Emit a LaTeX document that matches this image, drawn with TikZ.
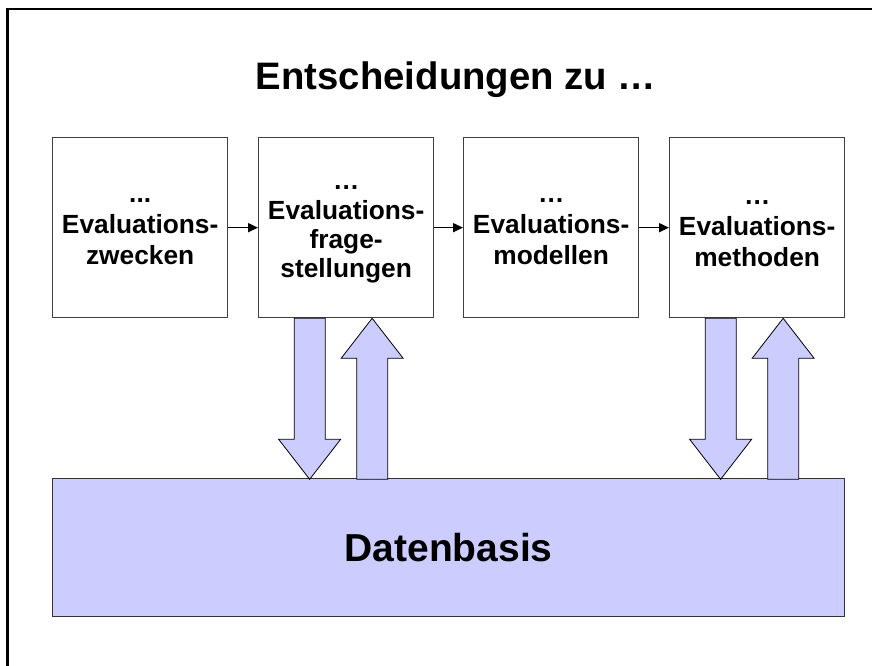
\documentclass[tikz,border=0pt]{standalone}
\usepackage{fontspec}
\setmainfont{Liberation Sans}
\usetikzlibrary{arrows.meta,calc}
\definecolor{dbblue}{HTML}{CCCCFF}
\begin{document}
\begin{tikzpicture}[x=1pt,y=-1pt,
  stagebox/.style={draw=black!75, line width=1.3pt, fill=white, minimum width=175pt, minimum height=180pt, inner sep=0pt, anchor=north west},
  stagetext/.style={align=center, inner sep=0pt, font=\fontsize{26.3}{31}\selectfont\bfseries},
  flow/.style={-{Triangle[length=10pt,width=9pt]}, line width=1.6pt},
  blockarrow/.style={fill=dbblue, draw=black, line width=0.8pt, line join=miter}]
\useasboundingbox (0,0) rectangle (872,666);
\fill[white] (0,0) rectangle (872,666);
\draw[line width=2.5pt] (7.5,666) -- (7.5,9) -- (872,9);

\node[font=\fontsize{38.3}{45}\selectfont\bfseries, anchor=base] (title) at (456,90) {Entscheidungen zu …};

\node[stagebox] (b1) at (52,137) {};
\node[stagebox] (b2) at (258,137) {};
\node[stagebox] (b3) at (463,137) {};
\node[stagebox] (b4) at (669,137) {};

\node[stagetext] (t1) at ($(b1.center)+(0,4.5)$) {...\\Evaluations-\\zwecken};
\node[stagetext, font=\fontsize{26.3}{29.3}\selectfont\bfseries] (t2) at ($(b2.center)+(0,7)$) {…\\Evaluations-\\frage-\\stellungen};
\node[stagetext] (t3) at ($(b3.center)+(0,4.5)$) {…\\Evaluations-\\modellen};
\node[stagetext] (t4) at ($(b4.center)+(0,6)$) {…\\Evaluations-\\methoden};

\draw[flow] (b1.east) -- (b2.west);
\draw[flow] (b2.east) -- (b3.west);
\draw[flow] (b3.east) -- (b4.west);

\node[draw=black!80, fill=dbblue, line width=1.3pt, minimum width=792pt, minimum height=138pt, inner sep=0pt, anchor=north west, font=\fontsize{39}{47}\selectfont\bfseries] (db) at (52,478) {Datenbasis};

\foreach \b in {b2,b4}{
  \draw[blockarrow] ($(\b.south)+(-52,0)$) -- ++(31,0) -- ++(0,121) -- ++(15.5,0) -- ++(-31,40) -- ++(-31,-40) -- ++(15.5,0) -- cycle;
  \draw[blockarrow] ($(\b.south)+(26,0)$) -- ++(31,40) -- ++(-15.5,0) -- ++(0,121) -- ++(-31,0) -- ++(0,-121) -- ++(-15.5,0) -- cycle;
}
\end{tikzpicture}
\end{document}
